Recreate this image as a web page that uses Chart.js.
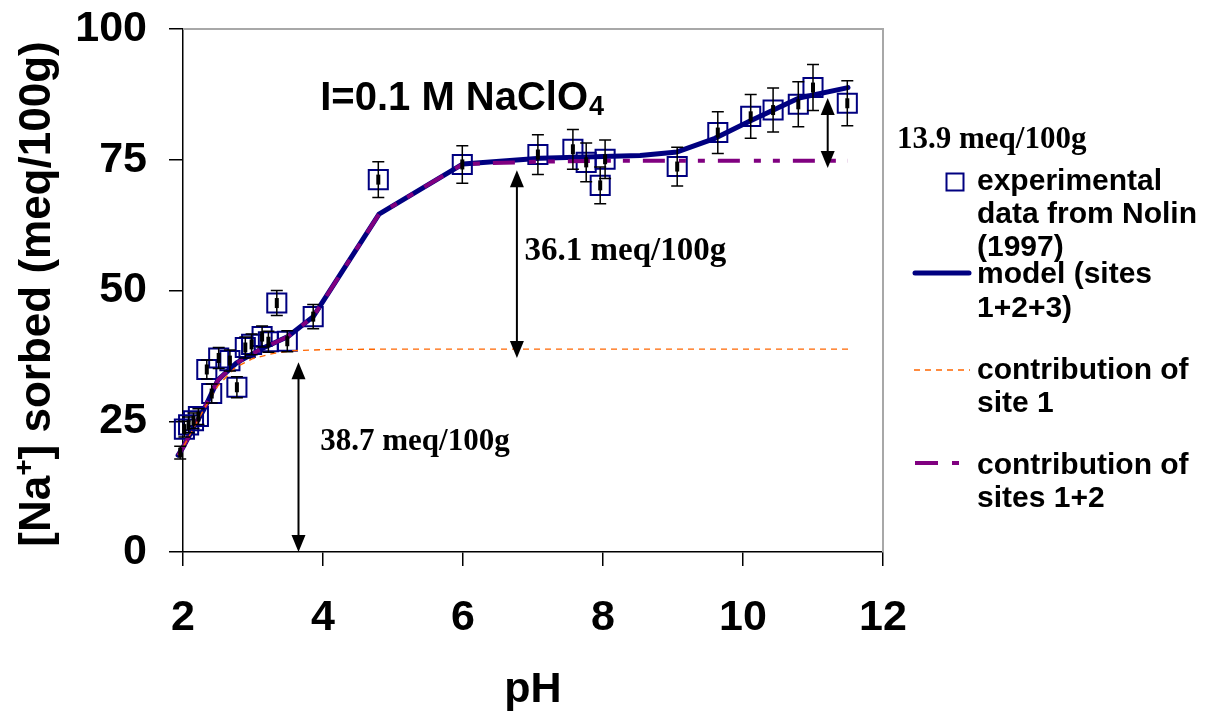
<!DOCTYPE html>
<html>
<head>
<meta charset="utf-8">
<script src="https://cdn.jsdelivr.net/npm/chart.js@4/dist/chart.umd.min.js"></script>
<style>
  html, body { margin: 0; padding: 0; background: #fff; }
</style>
</head>
<body>
<canvas id="chart" width="1210" height="718"></canvas>
<script>
// experimental points (Nolin 1997)
const expPH  = [1.96, 2.02, 2.08, 2.15, 2.22, 2.34, 2.41, 2.51, 2.67, 2.77, 2.89, 2.98, 3.13, 3.22, 3.34, 3.49, 3.86, 4.79, 5.99, 7.07, 7.57, 7.76, 7.96, 8.03, 9.06, 9.64, 10.11, 10.43, 10.79, 11.00, 11.49];
const expNa  = [19.0, 23.5, 24.3, 25.1, 25.9, 34.9, 30.3, 37.1, 36.6, 31.5, 39.1, 39.7, 41.2, 40.2, 47.6, 40.3, 45.0, 71.2, 74.1, 76.0, 77.0, 74.5, 70.1, 75.1, 73.7, 80.2, 83.3, 84.5, 85.6, 88.8, 85.8];
const expErr = [1.2, 1.5, 1.5, 1.5, 1.5, 1.8, 1.8, 2.0, 2.0, 2.0, 2.0, 2.0, 2.0, 2.0, 2.4, 2.0, 2.3, 3.4, 3.6, 3.8, 3.8, 3.7, 3.5, 3.7, 3.7, 4.0, 4.2, 4.2, 4.3, 4.4, 4.3];

// model curves
const modelPH = [1.93, 2.0, 2.15, 2.3, 2.5, 2.77, 3.1, 3.5, 3.86, 4.8, 6.0, 7.1, 8.0, 8.53, 9.06, 9.6, 10.1, 10.8, 11.5];
const modelNa = [18.5, 20.0, 23.8, 27.3, 32.9, 36.2, 38.7, 41.2, 45.0, 64.6, 74.2, 75.3, 75.6, 75.8, 76.5, 79.1, 82.4, 86.8, 88.8];
const site1PH = [1.93, 2.0, 2.3, 2.5, 2.75, 3.0, 3.3, 3.6, 4.0, 5.0, 11.5];
const site1Na = [18.5, 20.0, 27.3, 31.8, 35.3, 37.0, 38.0, 38.5, 38.7, 38.8, 38.8];
const sites12PH = [1.93, 2.0, 2.15, 2.3, 2.5, 2.77, 3.1, 3.5, 3.86, 4.8, 6.0, 7.0, 8.0, 11.5];
const sites12Na = [18.5, 20.0, 23.8, 27.3, 32.9, 36.2, 38.7, 41.2, 45.0, 64.6, 74.2, 74.6, 74.8, 74.8];

// axes
const xTicks = [2, 4, 6, 8, 10, 12];
const yTicks = [0, 25, 50, 75, 100];

// annotations (double arrows and their labels)
const arrowPH   = [3.65, 6.77, 11.21];
const arrowLow  = [0, 37.1, 73.4];
const arrowHigh = [36.3, 73.0, 86.8];
const noteText  = ['38.7 meq/100g', '36.1 meq/100g', '13.9 meq/100g'];
const notePH    = [3.96, 6.88, 12.2];
const noteNa    = [19.5, 55.8, 77.2];
const noteSize  = [31, 33, 31];

const SANS = '"Liberation Sans", Arial, sans-serif';
const SERIF = '"Liberation Serif", "Times New Roman", serif';

function xy(xs, ys) {
  return xs.map((x, i) => ({ x: x, y: ys[i] }));
}

function drawArrow(ctx, x, yLow, yHigh) {
  const head = 17, half = 7;
  ctx.lineWidth = 2;
  ctx.beginPath();
  ctx.moveTo(x, yLow - head + 2);
  ctx.lineTo(x, yHigh + head - 2);
  ctx.stroke();
  ctx.beginPath();
  ctx.moveTo(x, yHigh);
  ctx.lineTo(x - half, yHigh + head);
  ctx.lineTo(x + half, yHigh + head);
  ctx.closePath();
  ctx.fill();
  ctx.beginPath();
  ctx.moveTo(x, yLow);
  ctx.lineTo(x - half, yLow - head);
  ctx.lineTo(x + half, yLow - head);
  ctx.closePath();
  ctx.fill();
}

const extras = {
  id: 'extras',
  beforeDatasetsDraw(chart) {
    const a = chart.chartArea, ctx = chart.ctx;
    ctx.save();
    ctx.strokeStyle = '#a8a8a8';
    ctx.lineWidth = 2;
    ctx.beginPath();
    ctx.moveTo(a.left, a.top);
    ctx.lineTo(a.right, a.top);
    ctx.lineTo(a.right, a.bottom);
    ctx.stroke();
    ctx.restore();
  },
  afterDatasetsDraw(chart) {
    const ctx = chart.ctx, xs = chart.scales.x, ys = chart.scales.y;
    ctx.save();

    // error bars + centre marks
    ctx.strokeStyle = '#000';
    ctx.fillStyle = '#000';
    ctx.lineWidth = 1.5;
    expPH.forEach((p, i) => {
      const x = xs.getPixelForValue(p);
      const y = ys.getPixelForValue(expNa[i]);
      const t = ys.getPixelForValue(expNa[i] + expErr[i]);
      const b = ys.getPixelForValue(expNa[i] - expErr[i]);
      ctx.beginPath();
      ctx.moveTo(x, t); ctx.lineTo(x, b);
      ctx.moveTo(x - 6, t); ctx.lineTo(x + 6, t);
      ctx.moveTo(x - 6, b); ctx.lineTo(x + 6, b);
      ctx.stroke();
      ctx.fillRect(x - 2, y - 5, 4, 10);
    });

    // double arrows
    arrowPH.forEach((p, i) => {
      drawArrow(ctx, xs.getPixelForValue(p), ys.getPixelForValue(arrowLow[i]), ys.getPixelForValue(arrowHigh[i]));
    });

    // arrow labels
    ctx.textBaseline = 'alphabetic';
    ctx.textAlign = 'left';
    noteText.forEach((t, i) => {
      ctx.font = 'bold ' + noteSize[i] + 'px ' + SERIF;
      ctx.fillText(t, xs.getPixelForValue(notePH[i]), ys.getPixelForValue(noteNa[i]));
    });

    // title inside the plot
    const tx = xs.getPixelForValue(3.96), ty = ys.getPixelForValue(84.5);
    ctx.font = 'bold 40px ' + SANS;
    ctx.fillText('I=0.1 M NaClO', tx, ty);
    const w = ctx.measureText('I=0.1 M NaClO').width;
    ctx.font = 'bold 27px ' + SANS;
    ctx.fillText('4', tx + w + 1, ty + 5);

    // y axis title with superscript
    ctx.translate(38, 294);
    ctx.rotate(-Math.PI / 2);
    ctx.textBaseline = 'middle';
    const big = 'bold 44px ' + SANS, small = 'bold 28px ' + SANS;
    ctx.font = big;
    const w1 = ctx.measureText('[Na').width;
    const w3 = ctx.measureText('] sorbed (meq/100g)').width;
    ctx.font = small;
    const w2 = ctx.measureText('+').width;
    let cx = -(w1 + w2 + w3) / 2;
    ctx.font = big;
    ctx.fillText('[Na', cx, 0);
    cx += w1;
    ctx.font = small;
    ctx.fillText('+', cx, -13);
    cx += w2;
    ctx.font = big;
    ctx.fillText('] sorbed (meq/100g)', cx, 0);
    ctx.restore();

    // legend on the right
    ctx.save();
    ctx.font = 'bold 30px ' + SANS;
    ctx.fillStyle = '#000';
    ctx.textBaseline = 'middle';
    const lx = 977;
    const lines = [
      ['experimental', 182], ['data from Nolin', 215], ['(1997)', 248],
      ['model (sites', 275], ['1+2+3)', 309],
      ['contribution of', 371], ['site 1', 404],
      ['contribution of', 466], ['sites 1+2', 499]
    ];
    lines.forEach(l => ctx.fillText(l[0], lx, l[1]));

    ctx.strokeStyle = '#000080';
    ctx.lineWidth = 2;
    ctx.strokeRect(946.5, 173.5, 17, 17);

    ctx.lineWidth = 5;
    ctx.lineCap = 'round';
    ctx.beginPath(); ctx.moveTo(915, 273); ctx.lineTo(969, 273); ctx.stroke();

    ctx.lineCap = 'butt';
    ctx.strokeStyle = '#FF6600';
    ctx.lineWidth = 1.4;
    ctx.setLineDash([6, 5]);
    ctx.beginPath(); ctx.moveTo(914, 370); ctx.lineTo(970, 370); ctx.stroke();

    ctx.strokeStyle = '#800080';
    ctx.lineWidth = 4;
    ctx.setLineDash([23, 14, 7, 12]);
    ctx.beginPath(); ctx.moveTo(915, 463); ctx.lineTo(960, 463); ctx.stroke();
    ctx.restore();
  }
};

const tickFont = { family: SANS, size: 43, weight: 'bold' };

const chart = new Chart(document.getElementById('chart'), {
  type: 'scatter',
  data: {
    datasets: [
      {
        label: 'contribution of site 1',
        data: xy(site1PH, site1Na),
        showLine: true,
        borderColor: '#FF6600',
        borderWidth: 1.4,
        borderDash: [6, 5],
        pointRadius: 0,
        tension: 0,
        clip: 8
      },
      {
        label: 'contribution of sites 1+2',
        data: xy(sites12PH, sites12Na),
        showLine: true,
        borderColor: '#800080',
        borderWidth: 4,
        borderDash: [22, 14, 7, 12, 7, 13],
        pointRadius: 0,
        tension: 0,
        clip: 8
      },
      {
        label: 'model (sites 1+2+3)',
        data: xy(modelPH, modelNa),
        showLine: true,
        borderColor: '#000080',
        borderWidth: 5,
        borderJoinStyle: 'round',
        borderCapStyle: 'round',
        pointRadius: 0,
        tension: 0,
        clip: 8
      },
      {
        label: 'experimental data from Nolin (1997)',
        data: xy(expPH, expNa),
        showLine: false,
        pointStyle: 'rect',
        pointRadius: c => (c.raw && c.raw.x < 2 ? 0 : 13.5),
        pointBorderColor: '#000080',
        pointBackgroundColor: 'rgba(0,0,0,0)',
        pointBorderWidth: 2,
        clip: 20
      }
    ]
  },
  options: {
    responsive: false,
    animation: false,
    layout: { padding: { left: 0, right: 327, top: 29, bottom: 0 } },
    plugins: {
      legend: { display: false },
      tooltip: { enabled: false }
    },
    scales: {
      x: {
        type: 'linear',
        min: 2,
        max: 12,
        afterBuildTicks: s => { s.ticks = xTicks.map(v => ({ value: v })); },
        afterFit: s => { s.height = 166; s.paddingLeft = 0; s.paddingRight = 0; },
        ticks: { font: tickFont, color: '#000', padding: 26 },
        grid: { drawOnChartArea: false, drawTicks: true, tickLength: 14, color: '#000', lineWidth: 1.5 },
        border: { color: '#000', width: 1.5 },
        title: { display: true, text: 'pH', color: '#000', font: tickFont, padding: { top: 0, bottom: 2 } }
      },
      y: {
        type: 'linear',
        min: 0,
        max: 100,
        afterBuildTicks: s => { s.ticks = yTicks.map(v => ({ value: v })); },
        afterFit: s => { s.width = 183; s.paddingTop = 0; s.paddingBottom = 0; },
        ticks: { font: tickFont, color: '#000', padding: 22 },
        grid: { drawOnChartArea: false, drawTicks: true, tickLength: 14, color: '#000', lineWidth: 1.5 },
        border: { color: '#000', width: 1.5 }
      }
    }
  },
  plugins: [extras]
});
</script>
</body>
</html>
